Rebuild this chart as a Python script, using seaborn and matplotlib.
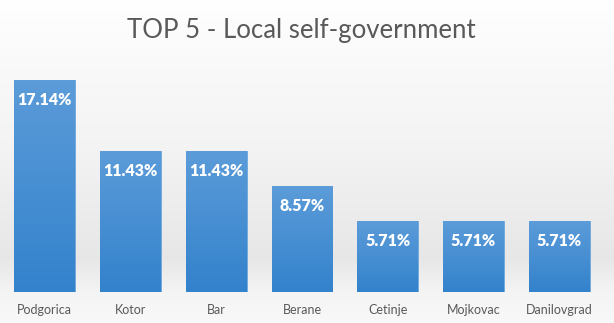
import numpy as np
import pandas as pd
import matplotlib
matplotlib.use("Agg")
import matplotlib.pyplot as plt
import seaborn as sns

categories = ["Podgorica", "Kotor", "Bar", "Berane", "Cetinje", "Mojkovac", "Danilovgrad"]
shares = [17.14, 11.43, 11.43, 8.57, 5.71, 5.71, 5.71]
title = "TOP 5 - Local self-government"

df = pd.DataFrame({"city": categories, "share": shares})

sns.set_theme(style="white")
plt.rcParams["font.family"] = ["Lato", "DejaVu Sans"]

fig = plt.figure(figsize=(6.14, 3.23), dpi=100)

# soft background gradient for the whole slide
bg = fig.add_axes([0, 0, 1, 1], zorder=0)
rows = np.linspace(0, 1, 323)
shade = np.interp(rows, [0, 0.12, 0.45, 0.8, 0.9, 1.0], [1.0, 0.985, 0.955, 0.905, 0.955, 0.975])
bg.imshow(np.repeat(shade[:, None], 2, axis=1)[:, :, None].repeat(3, axis=2),
          aspect="auto", extent=[0, 1, 0, 1], origin="upper", interpolation="bilinear")
bg.set_axis_off()

ax = fig.add_axes([2 / 614, 31 / 323, 600 / 614, 247 / 323], zorder=1)
ax.patch.set_alpha(0)
sns.barplot(data=df, x="city", y="share", color="#3f8bd6", width=0.71,
            saturation=1, ax=ax)
ax.set_ylim(0, 20)
ax.set_xlim(-0.5, len(categories) - 0.5)

# vertical blue gradient inside each bar
grad = np.linspace(0, 1, 256)[:, None]
top_c = np.array([0.36, 0.61, 0.85])
bot_c = np.array([0.20, 0.51, 0.80])
img = top_c * (1 - grad[:, :, None]) + bot_c * grad[:, :, None]
for p in ax.patches:
    x0, y0 = p.get_x(), p.get_y()
    w, h = p.get_width(), p.get_height()
    im = ax.imshow(img, extent=[x0, x0 + w, y0, y0 + h], origin="upper",
                   aspect="auto", zorder=2, interpolation="bilinear")
    im.set_clip_path(p)
    p.set_edgecolor("#6fa8dc")
    p.set_linewidth(0.6)

for i, v in enumerate(shares):
    ax.text(i, v - 1.6, f"{v:.2f}%", ha="center", va="center", color="white",
            fontsize=11.5, fontweight="heavy", zorder=3)

ax.set_xlabel("")
ax.set_ylabel("")
ax.set_yticks([])
ax.tick_params(axis="x", length=0, pad=9, labelsize=9, labelcolor="#595959")
for s in ax.spines.values():
    s.set_visible(False)

fig.text(0.49, 0.905, title, ha="center", va="center", fontsize=18.5, color="#595959")

fig.savefig("out.png", dpi=100)
